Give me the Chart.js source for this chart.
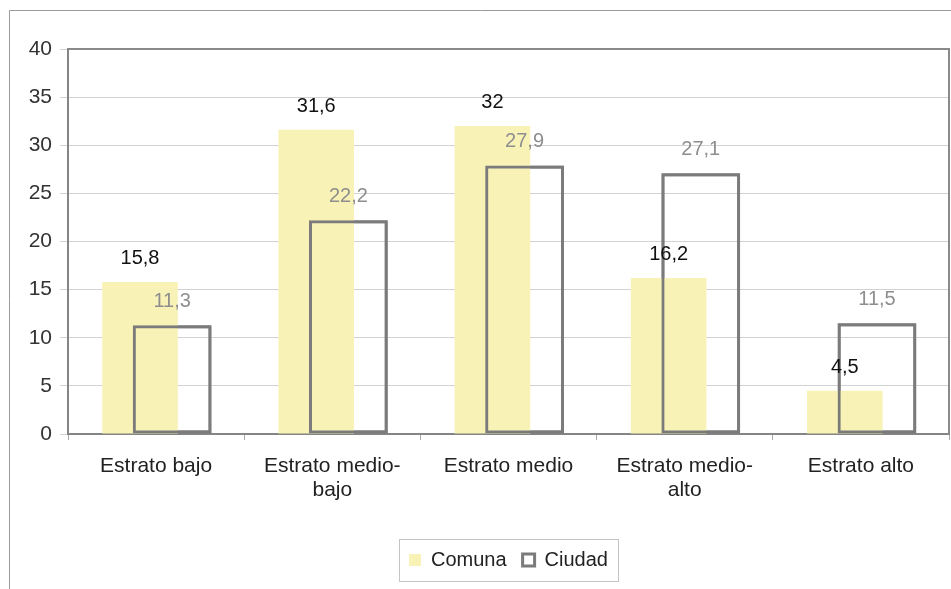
<!DOCTYPE html>
<html>
<head>
<meta charset="utf-8">
<script src="https://cdn.jsdelivr.net/npm/chart.js@4.4.1/dist/chart.umd.min.js"></script>
<style>
    body { margin: 0; background: #fff; }
    canvas { display: block; }
</style>
</head>
<body>
<canvas id="estratoChart" width="951" height="589"></canvas>
<script>
// Population share by socioeconomic stratum, comuna vs. city
const categories = ['Estrato bajo', ['Estrato medio-', 'bajo'], 'Estrato medio', ['Estrato medio-', 'alto'], 'Estrato alto'];
const comunaValues = [15.8, 31.6, 32, 16.2, 4.5];
const ciudadValues = [11.3, 22.2, 27.9, 27.1, 11.5];
const yMin = 0;
const yMax = 40;
const yStep = 5;

const FONT = "'Liberation Sans', Arial, sans-serif";

function formatValue(v) {
    return String(v).replace('.', ',');
}

// Outer frame of the figure (left and top edges)
const framePlugin = {
    id: 'frame',
    beforeDraw(chart) {
        const ctx = chart.ctx;
        ctx.save();
        ctx.strokeStyle = '#9a9a9a';
        ctx.lineWidth = 1;
        ctx.beginPath();
        ctx.moveTo(9.5, chart.height);
        ctx.lineTo(9.5, 10.5);
        ctx.lineTo(chart.width, 10.5);
        ctx.stroke();
        ctx.restore();
    }
};

// Redraw the outlined bars so their borders sit over the filled ones,
// then close the plot box and write the values
const overlayPlugin = {
    id: 'overlay',
    afterDatasetsDraw(chart) {
        const ctx = chart.ctx;
        const area = chart.chartArea;

        chart.getDatasetMeta(1).data.forEach(bar => bar.draw(ctx));

        ctx.save();
        ctx.strokeStyle = '#8a8a8a';
        ctx.lineWidth = 2;
        ctx.beginPath();
        ctx.moveTo(area.left, area.top);
        ctx.lineTo(area.right, area.top);
        ctx.lineTo(area.right, area.bottom);
        ctx.stroke();

        ctx.font = '20px ' + FONT;
        ctx.textAlign = 'center';
        ctx.textBaseline = 'alphabetic';
        const colors = ['#111111', '#8e8e8e'];
        chart.data.datasets.forEach((ds, i) => {
            const meta = chart.getDatasetMeta(i);
            ctx.fillStyle = colors[i];
            meta.data.forEach((bar, j) => {
                ctx.fillText(formatValue(ds.data[j]), bar.x, bar.y - 18);
            });
        });
        ctx.restore();
    }
};

// Box drawn round the legend entries
const legendBoxPlugin = {
    id: 'legendBox',
    afterDraw(chart) {
        const boxes = chart.legend && chart.legend.legendHitBoxes;
        if (!boxes || !boxes.length) return;
        const left = Math.min(...boxes.map(b => b.left)) - 10;
        const right = Math.max(...boxes.map(b => b.left + b.width)) + 10;
        const top = Math.min(...boxes.map(b => b.top)) - 11;
        const bottom = Math.max(...boxes.map(b => b.top + b.height)) + 11;
        const ctx = chart.ctx;
        ctx.save();
        ctx.strokeStyle = '#c4c4c4';
        ctx.lineWidth = 1;
        ctx.strokeRect(Math.round(left) + 0.5, Math.round(top) + 0.5, Math.round(right - left), Math.round(bottom - top));
        ctx.restore();
    }
};

const ctx = document.getElementById('estratoChart').getContext('2d');

new Chart(ctx, {
    type: 'bar',
    data: {
        labels: categories,
        datasets: [{
            label: 'Comuna',
            data: comunaValues,
            backgroundColor: '#f8f2b6',
            borderWidth: 0,
            barPercentage: 2.35,
            categoryPercentage: 0.365
        }, {
            label: 'Ciudad',
            data: ciudadValues,
            backgroundColor: 'rgba(255, 255, 255, 0)',
            borderColor: '#7b7b7b',
            borderWidth: 3,
            borderSkipped: false,
            barPercentage: 2.45,
            categoryPercentage: 0.365
        }]
    },
    options: {
        responsive: false,
        animation: false,
        layout: {
            padding: { top: 49, right: 2, left: 0, bottom: 9 }
        },
        plugins: {
            legend: {
                position: 'bottom',
                fullSize: false,
                labels: {
                    boxWidth: 12,
                    boxHeight: 12,
                    padding: 16,
                    color: '#222',
                    font: { family: FONT, size: 20 }
                }
            },
            tooltip: { enabled: false }
        },
        scales: {
            x: {
                afterFit(scale) {
                    scale.height = 100;
                },
                grid: {
                    drawOnChartArea: false,
                    drawTicks: true,
                    tickLength: 6,
                    color: '#a8a8a8'
                },
                border: { color: '#858585', width: 2 },
                ticks: {
                    padding: 14,
                    color: '#222',
                    font: { family: FONT, size: 21, lineHeight: 1.15 }
                }
            },
            y: {
                min: yMin,
                max: yMax,
                afterFit(scale) {
                    scale.width = 68;
                },
                grid: {
                    color: '#d2d2d2',
                    tickLength: 8
                },
                border: { color: '#858585', width: 2 },
                ticks: {
                    stepSize: yStep,
                    padding: 8,
                    color: '#333',
                    font: { family: FONT, size: 21 }
                }
            }
        }
    },
    plugins: [framePlugin, overlayPlugin, legendBoxPlugin]
});
</script>
</body>
</html>
